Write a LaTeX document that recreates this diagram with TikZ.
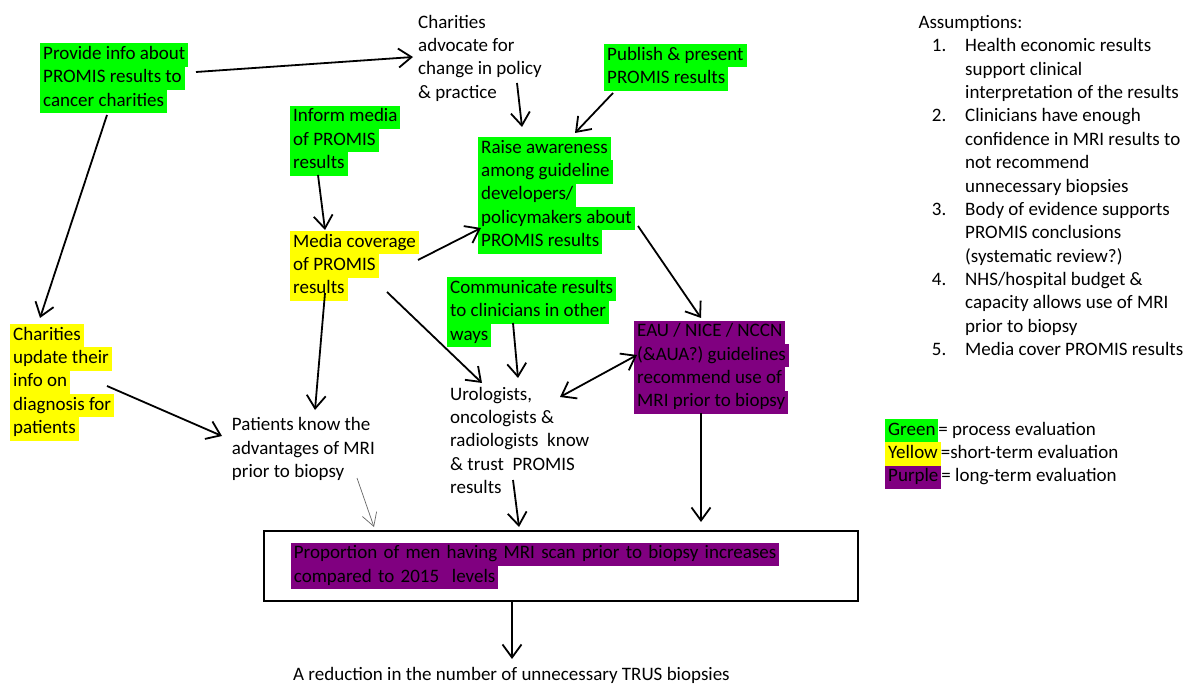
\documentclass[tikz,border=0pt]{standalone}
\usepackage{fontspec}
\setmainfont{Carlito}
\usetikzlibrary{arrows.meta}
\definecolor{hlgreen}{HTML}{00FF00}
\definecolor{hlyellow}{HTML}{FFFF00}
\definecolor{hlpurple}{HTML}{800080}
\newcommand\hlt[2]{{\setlength\fboxsep{0pt}\colorbox{#1}{\strut\hspace{3pt}#2\hspace{3pt}}}}
\newcommand\hlg[1]{\hlt{hlgreen}{#1}}
\newcommand\hly[1]{\hlt{hlyellow}{#1}}
\newcommand\hlp[1]{\hlt{hlpurple}{#1}}
\tikzset{
  txt/.style={anchor=north west, inner sep=0pt, align=left,
    font=\fontsize{19}{23.35}\selectfont},
  arr/.style={line width=1.8pt, -{Straight Barb[length=13pt,width=19pt]}},
  arrtwo/.style={line width=1.8pt, {Straight Barb[length=13pt,width=19pt]}-{Straight Barb[length=13pt,width=19pt]}},
  thinarr/.style={line width=0.7pt, black!60, -{Straight Barb[length=13pt,width=15pt]}},
  outcome/.style={draw, line width=1.8pt, anchor=north west, inner xsep=27pt, inner ysep=0pt,
    text width=540pt, minimum height=70pt, align=left, font=\fontsize{19}{23.35}\selectfont},
}
\begin{document}
\begin{tikzpicture}[x=1pt,y=-1pt]
  \useasboundingbox (0,0) rectangle (1193,684);
  % Cajas
  \node[txt] (prov) at (40,43) {\hlg{Provide info about}\\\hlg{PROMIS results to}\\\hlg{cancer charities}};
  \node[txt] (adv) at (418,11.7) {\strut Charities\\advocate for\\change in policy\\\& practice};
  \node[txt] (pub) at (604,43.7) {\hlg{Publish \& present}\\\hlg{PROMIS results}};
  \node[txt] (inform) at (290,105.4) {\hlg{Inform media}\\\hlg{of PROMIS}\\\hlg{results}};
  \node[txt] (raise) at (478,136.7) {\hlg{Raise awareness}\\\hlg{among guideline}\\\hlg{developers/}\\\hlg{policymakers about}\\\hlg{PROMIS results}};
  \node[txt] (media) at (290,230.7) {\hly{Media coverage}\\\hly{of PROMIS}\\\hly{results}};
  \node[txt] (comm) at (447,277) {\hlg{Communicate results}\\\hlg{to clinicians in other}\\\hlg{ways}};
  \node[txt] (eau) at (634,320.4) {\hlp{EAU / NICE / NCCN}\\\hlp{(\&AUA?) guidelines}\\\hlp{recommend use of}\\\hlp{MRI prior to biopsy}};
  \node[txt] (upd) at (10,323.7) {\hly{Charities}\\\hly{update their}\\\hly{info on}\\\hly{diagnosis for}\\\hly{patients}};
  \node[txt] (pat) at (231.7,414.4) {\strut Patients know the\\advantages of MRI\\prior to biopsy};
  \node[txt] (uro) at (450,383.7) {\strut Urologists,\\oncologists \&\\radiologists~ know\\\& trust~ PROMIS\\results};
  \node[outcome] (prop) at (263,530) {\hlp{Proportion of men having MRI scan prior to biopsy increases}\\\hlp{compared to 2015~ levels}};
  \node[txt] (red) at (293,663.7) {\strut A reduction in the number of unnecessary TRUS biopsies};
  % Supuestos
  \node[txt] (assume) at (918.3,12) {\strut Assumptions:};
  \foreach \n/\k/\txt in {1/0/{Health economic results\\support clinical\\interpretation of the results},
      2/3/{Clinicians have enough\\confidence in MRI results to\\not recommend\\unnecessary biopsies},
      3/7/{Body of evidence supports\\PROMIS conclusions\\(systematic review?)},
      4/10/{NHS/hospital budget \&\\capacity allows use of MRI\\prior to biopsy},
      5/13/{Media cover PROMIS results}} {
    \node[txt] (num\n) at (931.7,{35.4+23.35*\k}) {\strut\n.};
    \node[txt] (item\n) at (965,{35.4+23.35*\k}) {\strut\txt};
  }
  % Leyenda
  \node[txt] (legend) at (885,418.7) {\hlg{Green}= process evaluation\\\hly{Yellow}=short-term evaluation\\\hlp{Purple}= long-term evaluation};
  % Flechas
  \draw[arr] ([shift={(156,29)}]prov.north west) -- ([shift={(-5,45.3)}]adv.north west);
  \draw[arr] ([shift={(67,72)}]prov.north west) -- ([shift={(30,-5.7)}]upd.north west);
  \draw[arr] ([shift={(99,71.3)}]adv.north west) -- ([shift={(44,-9.7)}]raise.north west);
  \draw[arr] ([shift={(9,49.3)}]pub.north west) -- ([shift={(97,-3.7)}]raise.north west);
  \draw[arr] ([shift={(28,69.6)}]inform.north west) -- ([shift={(35,-0.7)}]media.north west);
  \draw[arr] ([shift={(128,29.3)}]media.north west) -- ([shift={(3,91.3)}]raise.north west);
  \draw[arr] ([shift={(35,62.3)}]media.north west) -- ([shift={(83.3,-4.4)}]pat.north west);
  \draw[arr] ([shift={(97,61.3)}]media.north west) -- ([shift={(32,-0.7)}]uro.north west);
  \draw[arr] ([shift={(160,89.3)}]raise.north west) -- ([shift={(67,-2.4)}]eau.north west);
  \draw[arr] ([shift={(66,46)}]comm.north west) -- ([shift={(68,-5.7)}]uro.north west);
  \draw[arrtwo] ([shift={(110,13.3)}]uro.north west) -- ([shift={(3,34.6)}]eau.north west);
  \draw[arr] ([shift={(97,62.3)}]upd.north west) -- ([shift={(-9.7,21.6)}]pat.north west);
  \draw[thinarr] ([shift={(125.3,63.6)}]pat.north west) -- ([shift={(111,-3)}]prop.north west);
  \draw[arr] ([shift={(63,96.3)}]uro.north west) -- ([shift={(256,-3)}]prop.north west);
  \draw[arr] ([shift={(67,92.6)}]eau.north west) -- ([shift={(438,-8)}]prop.north west);
  \draw[arr] ([shift={(249,70)}]prop.north west) -- ([shift={(219,-4.7)}]red.north west);
\end{tikzpicture}
\end{document}
